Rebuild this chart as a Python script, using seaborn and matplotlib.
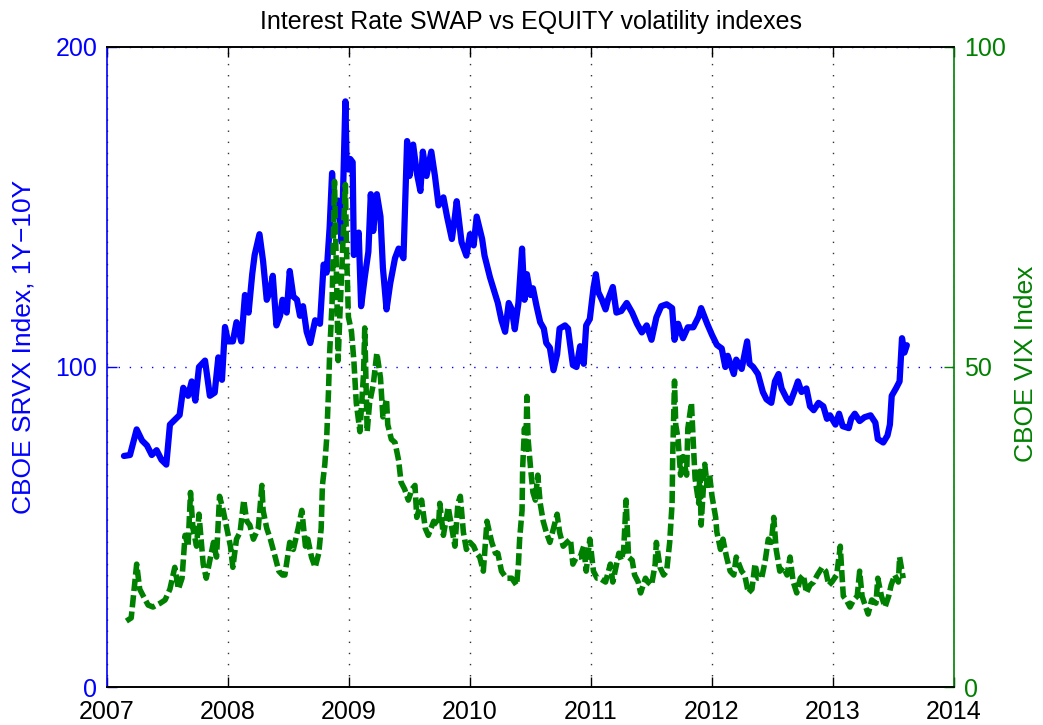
import numpy as np
import pandas as pd
import matplotlib
matplotlib.use("Agg")
import matplotlib.pyplot as plt
import seaborn as sns

# ---------------- data (decimal years, index levels) ----------------
srvx_t = [2007.14, 2007.19, 2007.245, 2007.29, 2007.33, 2007.37, 2007.41, 2007.45, 2007.49, 2007.52,
          2007.56, 2007.60, 2007.63, 2007.67, 2007.70, 2007.73, 2007.76, 2007.81, 2007.85, 2007.89,
          2007.92, 2007.95, 2007.975, 2008.00, 2008.04, 2008.07, 2008.11, 2008.14, 2008.17, 2008.20,
          2008.22, 2008.26, 2008.29, 2008.32, 2008.35, 2008.37, 2008.40, 2008.43, 2008.45, 2008.485,
          2008.51, 2008.54, 2008.57, 2008.595, 2008.62, 2008.65, 2008.68, 2008.72, 2008.76, 2008.79,
          2008.815, 2008.84, 2008.86, 2008.88, 2008.91, 2008.94, 2008.97, 2008.98, 2008.995, 2009.01,
          2009.03, 2009.04, 2009.08, 2009.10, 2009.13, 2009.16, 2009.18, 2009.20, 2009.23, 2009.26,
          2009.28, 2009.31, 2009.34, 2009.38, 2009.41, 2009.45, 2009.48, 2009.50, 2009.53, 2009.56,
          2009.59, 2009.61, 2009.64, 2009.68, 2009.71, 2009.74, 2009.78, 2009.81, 2009.85, 2009.875,
          2009.89, 2009.93, 2009.97, 2010.00, 2010.03, 2010.055, 2010.10, 2010.12, 2010.165, 2010.21,
          2010.23, 2010.26, 2010.29, 2010.32, 2010.345, 2010.37, 2010.40, 2010.43, 2010.45, 2010.47,
          2010.50, 2010.52, 2010.55, 2010.58, 2010.61, 2010.63, 2010.66, 2010.69, 2010.72, 2010.74,
          2010.785, 2010.81, 2010.85, 2010.88, 2010.91, 2010.94, 2010.96, 2010.99, 2011.02, 2011.04,
          2011.06, 2011.09, 2011.12, 2011.14, 2011.18, 2011.21, 2011.25, 2011.295, 2011.34, 2011.38,
          2011.42, 2011.46, 2011.50, 2011.54, 2011.58, 2011.625, 2011.67, 2011.69, 2011.72, 2011.76,
          2011.80, 2011.845, 2011.89, 2011.91, 2011.96, 2012.00, 2012.04, 2012.08, 2012.11, 2012.13,
          2012.18, 2012.20, 2012.245, 2012.29, 2012.31, 2012.34, 2012.38, 2012.42, 2012.45, 2012.49,
          2012.52, 2012.55, 2012.575, 2012.62, 2012.645, 2012.69, 2012.71, 2012.74, 2012.78, 2012.81,
          2012.84, 2012.88, 2012.92, 2012.95, 2012.975, 2013.02, 2013.05, 2013.08, 2013.13, 2013.15,
          2013.18, 2013.22, 2013.26, 2013.31, 2013.35, 2013.37, 2013.415, 2013.45, 2013.47, 2013.485,
          2013.52, 2013.55, 2013.57, 2013.59, 2013.61]
srvx_v = [72.2, 72.5, 80.5, 77, 75.5, 72.5, 74, 71, 69.5, 82,
          83.5, 85, 93.5, 91, 95.5, 89.5, 100, 102, 91, 92,
          103, 96, 112.5, 108, 108, 114, 108, 122.5, 117, 129,
          135, 141.5, 133, 121, 124, 128.5, 113, 116, 121, 117,
          130, 122, 121, 116, 119, 111, 107.5, 114.6, 113.5, 132,
          129.5, 143.7, 160.6, 147, 152, 139, 183, 164, 161.7, 165,
          164, 135, 142, 119, 128, 136, 154, 142.5, 154, 147,
          131, 118, 126, 134, 137, 134, 170.6, 159.7, 169.5, 160.7,
          155, 167.3, 159.7, 167.3, 159.7, 150.5, 153, 147, 140, 147,
          151.8, 139, 134.8, 141.5, 138, 147, 140, 134.8, 128, 122.5,
          120, 114.6, 111, 120, 118, 111.8, 120, 137, 121, 129,
          122.5, 124.6, 119, 114, 112, 107.5, 106, 99, 104, 112,
          113, 112, 100.6, 100, 106.5, 101, 113, 115, 124.6, 129,
          123.4, 121, 118, 121, 125, 117, 117.5, 120, 117, 113.5,
          110.8, 113, 108.5, 115.5, 119, 119.6, 118.4, 108.5, 113.5, 109,
          112.4, 112.4, 115.8, 118.4, 113.5, 110, 106.9, 105.8, 100, 103.5,
          97.8, 102.3, 99.4, 108, 101, 100, 97.8, 92.2, 89.9, 88.8,
          95.5, 97.8, 93.3, 89.9, 88.8, 93.3, 95.5, 92.2, 93.3, 87.7,
          86.5, 88.8, 87.7, 83.8, 84.9, 82, 85.4, 81.5, 80.9, 83.8,
          85.4, 83.1, 84.3, 84.9, 82.6, 77.5, 76.4, 78.6, 82, 91,
          93.3, 95.5, 109, 104.5, 106.8]

vix_t = [2007.16, 2007.20, 2007.23, 2007.245, 2007.27, 2007.30, 2007.34, 2007.38, 2007.44, 2007.48,
         2007.52, 2007.56, 2007.59, 2007.62, 2007.645, 2007.67, 2007.69, 2007.71, 2007.74, 2007.76,
         2007.795, 2007.82, 2007.85, 2007.88, 2007.905, 2007.93, 2007.96, 2007.99, 2008.02, 2008.04,
         2008.07, 2008.10, 2008.13, 2008.155, 2008.18, 2008.21, 2008.25, 2008.28, 2008.29, 2008.32,
         2008.35, 2008.39, 2008.42, 2008.45, 2008.47, 2008.51, 2008.54, 2008.58, 2008.61, 2008.64,
         2008.66, 2008.69, 2008.72, 2008.75, 2008.77, 2008.78, 2008.80, 2008.815, 2008.83, 2008.84,
         2008.86, 2008.87, 2008.88, 2008.90, 2008.91, 2008.925, 2008.95, 2008.97, 2008.98, 2008.995,
         2009.02, 2009.04, 2009.06, 2009.09, 2009.12, 2009.13, 2009.15, 2009.17, 2009.20, 2009.23,
         2009.26, 2009.28, 2009.31, 2009.32, 2009.35, 2009.38, 2009.41, 2009.43, 2009.46, 2009.49,
         2009.52, 2009.545, 2009.56, 2009.60, 2009.63, 2009.655, 2009.70, 2009.74, 2009.75, 2009.78,
         2009.82, 2009.85, 2009.875, 2009.90, 2009.92, 2009.945, 2009.97, 2010.00, 2010.03, 2010.055,
         2010.08, 2010.11, 2010.14, 2010.16, 2010.18, 2010.21, 2010.23, 2010.26, 2010.30, 2010.345,
         2010.385, 2010.40, 2010.41, 2010.43, 2010.435, 2010.45, 2010.46, 2010.47, 2010.48, 2010.50,
         2010.52, 2010.54, 2010.56, 2010.58, 2010.605, 2010.63, 2010.66, 2010.69, 2010.72, 2010.74,
         2010.77, 2010.80, 2010.83, 2010.85, 2010.88, 2010.91, 2010.94, 2010.96, 2010.99, 2011.02,
         2011.05, 2011.07, 2011.12, 2011.16, 2011.18, 2011.23, 2011.25, 2011.27, 2011.29, 2011.31,
         2011.34, 2011.36, 2011.39, 2011.41, 2011.45, 2011.47, 2011.50, 2011.53, 2011.54, 2011.57,
         2011.60, 2011.625, 2011.65, 2011.67, 2011.675, 2011.69, 2011.70, 2011.72, 2011.74, 2011.76,
         2011.79, 2011.80, 2011.83, 2011.845, 2011.86, 2011.89, 2011.90, 2011.91, 2011.94, 2011.96,
         2011.98, 2012.00, 2012.03, 2012.04, 2012.07, 2012.09, 2012.12, 2012.15, 2012.18, 2012.20,
         2012.245, 2012.27, 2012.30, 2012.33, 2012.355, 2012.38, 2012.41, 2012.44, 2012.465, 2012.49,
         2012.51, 2012.53, 2012.56, 2012.59, 2012.62, 2012.645, 2012.67, 2012.70, 2012.73, 2012.755,
         2012.78, 2012.81, 2012.84, 2012.87, 2012.91, 2012.94, 2012.965, 2012.99, 2013.03, 2013.06,
         2013.07, 2013.085, 2013.11, 2013.14, 2013.17, 2013.20, 2013.22, 2013.24, 2013.26, 2013.29,
         2013.32, 2013.355, 2013.37, 2013.40, 2013.43, 2013.46, 2013.48, 2013.51, 2013.54, 2013.55,
         2013.58]
vix_v = [10.3, 10.8, 16.4, 19.2, 15.3, 14.2, 12.8, 12.5, 13.1, 13.6,
         15.3, 18.7, 15.3, 17, 23.7, 22, 30.4, 24.8, 22, 27,
         19.2, 17, 19.8, 22.6, 20.3, 29.8, 27.6, 24.8, 22, 18.7,
         23.1, 24.2, 29.2, 25.9, 25.3, 23.1, 24.8, 31.5, 27.6, 24.8,
         23.1, 20.3, 18.1, 17.5, 17.5, 22.6, 21.5, 24.8, 27.6, 22,
         23.1, 20.3, 18.7, 20.9, 24.8, 31.5, 34.8, 38.7, 46, 52.2,
         60, 69.6, 79, 61.1, 51, 58.4, 69.6, 78.5, 67.9, 57.8,
         55.6, 51, 44.4, 39.9, 48.9, 56.1, 39.9, 44.4, 47.2, 52.2,
         48.3, 42.2, 45, 41, 38.7, 38.2, 35.4, 32, 30.9, 29.2,
         30.9, 31.5, 26.5, 29.2, 24.8, 23.7, 25.9, 25.3, 28.7, 23.7,
         28.1, 24.8, 22, 28.7, 29.8, 24.2, 21.5, 22.6, 22, 20.9,
         20.3, 18.1, 25.9, 24.2, 22.6, 20.9, 20.9, 18.1, 17, 17,
         15.9, 19.2, 23.1, 27.6, 34.3, 40.4, 36.5, 45.4, 38.7, 34.3,
         30.4, 29.2, 33.1, 28.7, 25.9, 24.2, 22.6, 24.8, 27, 24.2,
         22, 22.6, 23.1, 19.2, 20.3, 20.3, 22, 18.1, 23.1, 18.1,
         17, 17, 16.4, 19.2, 16.4, 20.9, 19.8, 21.5, 29.2, 20.3,
         19.8, 17.5, 16.4, 14.7, 17, 16.4, 15.9, 19.2, 22.6, 18.7,
         17.5, 18.1, 22.6, 28.7, 36, 47.8, 41, 38.7, 33.1, 36,
         33.1, 40.4, 44.4, 38.2, 32.6, 28.7, 33.7, 25.3, 34.8, 31.5,
         33.1, 29.8, 26.5, 24.2, 21.5, 23.1, 20.3, 18.1, 17.5, 20.3,
         18.1, 17.5, 14.7, 15.3, 19.2, 17, 17, 19.8, 23.1, 22.6,
         26.5, 21.5, 18.1, 18.7, 17.5, 20.3, 16.5, 14.7, 17, 17.5,
         14.7, 15.9, 16.4, 17.5, 18.7, 18.1, 15.9, 16.4, 17.5, 22,
         18.7, 14.2, 13.6, 12.5, 13.6, 14.2, 18.1, 14.2, 13.1, 11.4,
         13.6, 13.1, 17, 14.2, 12.5, 14.2, 15.9, 17.5, 16.4, 20.3,
         17]

year_ticks = [2007, 2008, 2009, 2010, 2011, 2012, 2013, 2014]
left_ticks = [0, 100, 200]
right_ticks = [0, 50, 100]

title = "Interest Rate SWAP vs EQUITY volatility indexes"
left_label = "CBOE SRVX Index, 1Y\u221210Y"
right_label = "CBOE VIX Index"

# ---------------- style ----------------
sns.set_style("white")
plt.rcParams["font.family"] = ["Liberation Sans", "DejaVu Sans"]
FS_TICK = 18
FS_TITLE = 18
FS_LABEL = 19
BLUE = "#0000ff"
GREEN = "#008000"

fig = plt.figure(figsize=(10.43, 7.25), dpi=100)
ax = fig.add_axes([0.1026, 0.0524, 0.8121, 0.8828])
ax2 = ax.twinx()

srvx = pd.DataFrame({"t": srvx_t, "v": srvx_v})
vix = pd.DataFrame({"t": vix_t, "v": vix_v})

sns.lineplot(data=srvx, x="t", y="v", ax=ax, color=BLUE, lw=4.5, sort=False,
             solid_capstyle="round", solid_joinstyle="round", zorder=3)
sns.lineplot(data=vix, x="t", y="v", ax=ax2, color=GREEN, lw=4.0, sort=False,
             linestyle=(0, (2.2, 0.75)), dash_capstyle="butt", zorder=3)

ax.set_xlim(2007, 2014)
ax.set_ylim(0, 200)
ax2.set_ylim(0, 100)

ax.set_xticks(year_ticks)
ax.set_xticklabels([str(y) for y in year_ticks])
ax.set_yticks(left_ticks)
ax2.set_yticks(right_ticks)

# grids
ax.xaxis.grid(True, color="0.2", linestyle=(0, (1, 7)), lw=1.0)
ax.yaxis.grid(True, color=BLUE, linestyle=(0, (1, 7)), lw=1.0)
ax2.grid(False)
ax.set_axisbelow(True)

# spines
for a in (ax, ax2):
    for s in a.spines.values():
        s.set_linewidth(1.2)
ax.spines["left"].set_color(BLUE)
ax.spines["bottom"].set_color("black")
ax.spines["top"].set_color("black")
ax.spines["right"].set_visible(False)
ax2.spines["left"].set_visible(False)
ax2.spines["right"].set_color(GREEN)
ax2.spines["top"].set_color("black")
ax2.spines["bottom"].set_color("black")

ax.tick_params(axis="x", direction="in", length=7, width=1, top=True, bottom=True,
               labelsize=FS_TICK, colors="black", pad=9)
ax.tick_params(axis="y", direction="in", length=7, width=1, left=True, right=False,
               labelsize=FS_TICK, colors=BLUE, pad=7)
ax2.tick_params(axis="y", direction="in", length=7, width=1, right=True, left=False,
                labelsize=FS_TICK, colors=GREEN, pad=7)
# the zero labels sit slightly above the axis line, as in the reference
for lab in ax.get_yticklabels() + ax2.get_yticklabels():
    lab.set_verticalalignment("center_baseline")

ax.set_xlabel("")
ax.set_ylabel(left_label, color=BLUE, fontsize=FS_LABEL)
ax2.set_ylabel(right_label, color=GREEN, fontsize=FS_LABEL)
ax.yaxis.set_label_coords(-0.084, 0.531)
ax2.yaxis.set_label_coords(1.071, 0.505)
ax.set_title(title, fontsize=FS_TITLE, pad=13, color="black")

fig.savefig("out.png", dpi=100)
